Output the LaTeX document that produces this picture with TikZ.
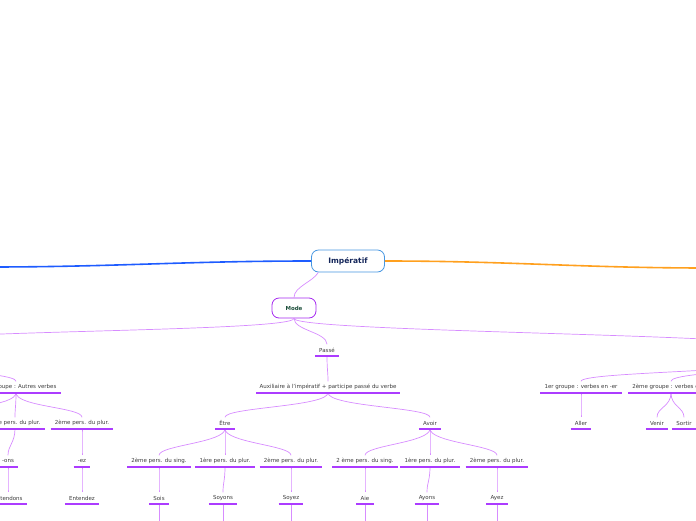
\documentclass[tikz,border=0pt]{standalone}
\usepackage{fontspec}
\setmainfont{DejaVu Sans}
\usepackage{tikz}
\usetikzlibrary{arrows.meta,calc,positioning}
\definecolor{impblue}{RGB}{30,92,255}
\definecolor{imporange}{RGB}{255,160,30}
\definecolor{impframe}{RGB}{70,150,225}
\definecolor{imptext}{RGB}{20,38,90}
\definecolor{modeframe}{RGB}{165,40,240}
\definecolor{modetext}{RGB}{30,80,60}
\definecolor{conn}{RGB}{215,140,255}
\definecolor{uline}{RGB}{172,60,255}
\definecolor{txt}{RGB}{60,60,60}

\begin{document}
\begin{tikzpicture}[x=1pt,y=-1pt,
  link/.style={draw=conn,line width=0.7pt},
  fork/.style={out=-90,in=90,out distance=14pt,in distance=10pt},
  underl/.style={draw=uline,line width=1.9pt},
  topic/.style={font=\fontsize{5.5}{6.5}\selectfont,text=txt,inner xsep=4pt,inner ysep=0pt,minimum height=11pt}]
  \useasboundingbox (0,0) rectangle (696,520);
  \clip (0,0) rectangle (696,520);
  % centre and mode
  \node[draw=impframe,line width=0.8pt,fill=white,rounded corners=7pt,minimum width=73pt,minimum height=22pt,
    font=\bfseries\fontsize{7.5}{9}\selectfont,text=imptext] (imp) at (348,261) {Impératif};
  \node[draw=modeframe,line width=0.8pt,fill=white,rounded corners=7pt,minimum width=44pt,minimum height=20pt,
    font=\bfseries\fontsize{5.5}{7}\selectfont,text=modetext] (mode) at (294,308) {Mode};
  \coordinate (offL) at (-12,267);
  \coordinate (offR) at (708,268);
  \draw[impblue,line width=1.6pt] (imp.west) to[out=180,in=0] (offL);
  \draw[imporange,line width=1.6pt] (imp.east) to[out=0,in=180] (offR);
  \draw[link] (imp.201) to[out=-120,in=90,looseness=0.8] (mode.north);
  % branches leaving the picture
  \coordinate (presL) at (-110,344);
  \coordinate (presLb) at (-110,356);
  \coordinate (presR) at (790,348);
  \coordinate (presRb) at (790,358);
  \coordinate (sgL) at (-50,417);
  \draw[link] (mode.south) .. controls +(0,14) and +(0,-14) .. (presL);
  \draw[link] (mode.south) .. controls +(0,14) and +(0,-14) .. (presR);
  % Passé
  \node[topic] (passe) at (327,350) {Passé};
  \node[topic,inner xsep=3pt] (aux) at (328,387) {Auxiliaire à l'impératif + participe passé du verbe};
  \node[topic] (etre) at (225,423) {Être};
  \node[topic] (avoir) at (430,423) {Avoir};
  \node[topic] (esg) at (159,461) {2ème pers. du sing.};
  \node[topic] (ep1) at (225,461) {1ère pers. du plur.};
  \node[topic] (ep2) at (291,461) {2ème pers. du plur.};
  \node[topic] (asg) at (365,461) {2 ème pers. du sing.};
  \node[topic] (ap1) at (430,461) {1ère pers. du plur.};
  \node[topic] (ap2) at (497,461) {2ème pers. du plur.};
  \node[topic] (sois) at (159,498) {Sois};
  \node[topic] (soyons) at (223,498) {Soyons};
  \node[topic] (soyez) at (291,498) {Soyez};
  \node[topic] (aie) at (365,498) {Aie};
  \node[topic] (ayons) at (427,498) {Ayons};
  \node[topic] (ayez) at (497,498) {Ayez};
  % groupes
  \node[topic] (grp3) at (16,387) {3ème groupe : Autres verbes};
  \node[topic] (gp1) at (15,423) {1ère pers. du plur.};
  \node[topic] (gp2) at (82,423) {2ème pers. du plur.};
  \node[topic] (ons) at (8,461) {-ons};
  \node[topic] (ez) at (82,461) {-ez};
  \node[topic] (entendons) at (8,498) {Entendons};
  \node[topic] (entendez) at (82,498) {Entendez};
  \node[topic] (grp1) at (581,387) {1er groupe : verbes en -er};
  \node[topic] (grp2) at (671,387) {2ème groupe : verbes en -ir};
  \node[topic] (aller) at (581,423) {Aller};
  \node[topic] (venir) at (657,423) {Venir};
  \node[topic] (sortir) at (684,423) {Sortir};
  \draw[link] (mode.south) .. controls +(0,12) and +(0,-12) .. (passe.north);
  \draw[link] (presLb) to[fork] (grp3.north);
  \draw[link] (grp3.south) to[fork] (sgL);
  \draw[link] (presRb) to[fork] (grp1.north);
  \draw[link] (presRb) to[fork] (grp2.north);
  \foreach \a/\b in {passe/aux,aux/etre,aux/avoir,etre/esg,etre/ep1,etre/ep2,avoir/asg,avoir/ap1,avoir/ap2,
    esg/sois,ep1/soyons,ep2/soyez,asg/aie,ap1/ayons,ap2/ayez,grp3/gp1,grp3/gp2,gp1/ons,gp2/ez,
    ons/entendons,ez/entendez,grp1/aller,grp2/venir,grp2/sortir}
    \draw[link] (\a.south) to[fork] (\b.north);
  % leaves continue below
  \foreach \a in {sois,soyons,soyez,aie,ayons,ayez}
    \draw[link] (\a.south) -- ++(0,40);
  % underlines
  \foreach \n in {passe,aux,etre,avoir,esg,ep1,ep2,asg,ap1,ap2,sois,soyons,soyez,aie,ayons,ayez,
    grp3,gp1,gp2,ons,ez,entendons,entendez,grp1,grp2,aller,venir,sortir}
    \draw[underl] (\n.south west) -- (\n.south east);
\end{tikzpicture}
\end{document}
